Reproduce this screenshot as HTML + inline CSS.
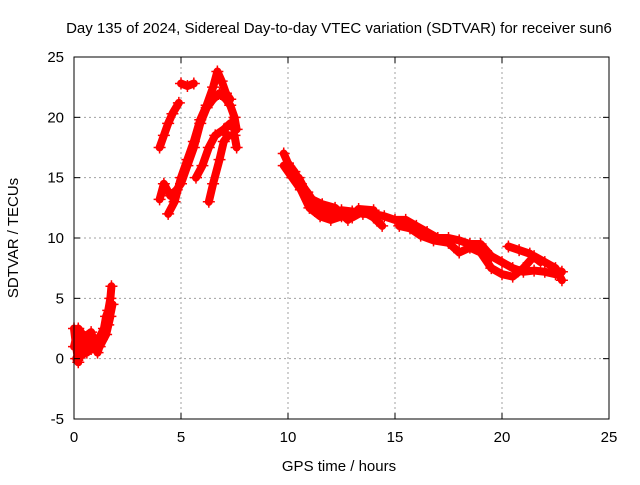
<!DOCTYPE html>
<html><head><meta charset="utf-8"><style>
body{margin:0;background:#fff}
svg text{font-family:"Liberation Sans",sans-serif;font-size:15px;fill:#000}
</style></head><body>
<svg id="chart" width="640" height="480">
<text x="339" y="33" text-anchor="middle">Day 135 of 2024, Sidereal Day-to-day VTEC variation (SDTVAR) for receiver sun6</text>
<g id="grid"></g><g id="series"></g><g id="axes"></g>
<text x="339" y="471" text-anchor="middle">GPS time / hours</text>
<text transform="translate(18,238) rotate(-90)" text-anchor="middle">SDTVAR / TECUs</text>
</svg>
<script>
const xTicks=[0,5,10,15,20,25];
const yTicks=[-5,0,5,10,15,20,25];
const trackA=[[0,2.5],[0.1,1],[0.2,-0.3],[0.3,1.5],[0.4,0.3],[0.6,1.5],[0.8,0.8],[1.0,1.5],[1.2,1.8],[1.4,2.5],[1.5,3.5],[1.6,4],[1.7,5],[1.75,6]];
const trackA2=[[0,1],[0.2,2.5],[0.4,2],[0.6,0.5],[0.9,1.8],[1.2,1],[1.5,2],[1.7,3.5]];
const trackA3=[[0.1,0],[0.3,0.8],[0.5,1.8],[0.8,2.2],[1.1,0.5],[1.3,1.6],[1.6,2.8],[1.8,4.5]];
const trackB=[[4.0,17.5],[4.2,18.5],[4.4,19.5],[4.6,20.3],[4.9,21.2]];
const trackB2=[[5.0,22.8],[5.3,22.6],[5.6,22.8]];
const trackC=[[4.0,13.2],[4.2,14.5],[4.5,13.5],[4.8,14],[5.0,14.5],[5.3,16],[5.6,17.5],[5.9,19.5],[6.2,20.8],[6.5,21.5],[6.8,22],[7.1,21.5],[7.3,21],[7.5,20],[7.6,19]];
const trackC2=[[4.4,12],[4.7,13],[5.0,15],[5.3,16.5],[5.6,18],[5.9,19.8],[6.2,21],[6.5,22.5],[6.7,23.8],[6.9,23],[7.1,22],[7.3,21.5]];
const trackD=[[5.7,15],[6.0,16],[6.3,17.5],[6.6,18.5],[7.0,19],[7.3,19.5],[7.5,19]];
const trackD2=[[6.3,13],[6.5,14.5],[6.8,16.5],[7.0,18],[7.2,18.5],[7.5,18.5],[7.6,17.5]];
const trackE=[[9.8,17],[10.0,16.2],[10.3,15.5],[10.6,14.5],[10.9,13.8],[11.2,13],[11.5,12.3],[12,12],[12.5,12.3],[13,12.2],[13.5,12],[14,12],[14.5,11.8],[15,11.5],[15.5,11.5],[16,11],[16.5,10.5],[17,10],[17.5,10],[18,9.8],[18.5,9.5],[19,9.5],[19.5,8.5],[20,8],[20.5,7.5],[21,7.2],[21.5,7.3],[22,7.2],[22.5,7],[22.8,7.2]];
const trackE2=[[9.8,16],[10.2,15],[10.6,14],[11,12.5],[11.5,11.8],[12,11.5],[12.5,11.8],[13,11.7],[13.5,12.2],[14,11.7],[14.4,11]];
const trackE3=[[15.2,11],[15.7,10.8],[16.2,10.2],[16.8,9.8],[17.5,9.6],[18,8.8],[18.5,9.2],[19,8.8],[19.5,7.5],[20,7],[20.5,6.8],[21,7.5],[21.5,8.5],[22,8],[22.5,7.5],[22.8,6.5]];
const trackE4=[[20.3,9.3],[20.8,9],[21.3,8.7],[21.8,8]];
const trackE5=[[10.5,15],[11,13.3],[11.6,12.8],[12.2,12.5],[12.8,11.5],[13.3,12.4],[14,12.3]];
const tracks=[trackA,trackA2,trackA3,trackB,trackB2,trackC,trackC2,trackD,trackD2,trackE,trackE2,trackE3,trackE4,trackE5];
const X0=74,X1=609,Y0=419,Y1=57;
const sx=v=>X0+(v-0)/25*(X1-X0);
const sy=v=>Y0-(v+5)/30*(Y0-Y1);
const NS="http://www.w3.org/2000/svg";
const mk=(t,a,p)=>{const e=document.createElementNS(NS,t);for(const k in a)e.setAttribute(k,a[k]);p.appendChild(e);return e;};
const G=document.getElementById('grid'),S=document.getElementById('series'),A=document.getElementById('axes');
xTicks.forEach(t=>{const x=sx(t);
 if(t>0&&t<25){const l=mk('line',{x1:x,x2:x,y1:Y1,y2:Y0,stroke:'#a0a0a0','stroke-dasharray':'2,3'},G);
 
 }
 const tk=mk('line',{x1:x,x2:x,y1:Y0,y2:Y0-6,stroke:'#000'},A);
 
 
 mk('line',{x1:x,x2:x,y1:Y1,y2:Y1+6,stroke:'#000'},A);
 const tx=mk('text',{x:x,y:442,'text-anchor':'middle'},A);tx.textContent=t;
 
 });
yTicks.forEach(t=>{const y=sy(t);
 if(t>-5&&t<25){const l=mk('line',{x1:X0,x2:X1,y1:y,y2:y,stroke:'#a0a0a0','stroke-dasharray':'2,3'},G);
 
 }
 mk('line',{x1:X0,x2:X0+6,y1:y,y2:y,stroke:'#000'},A);
 mk('line',{x1:X1,x2:X1-6,y1:y,y2:y,stroke:'#000'},A);
 const tx=mk('text',{x:64,y:y+5,'text-anchor':'end'},A);tx.textContent=t;
 
 });
const fr=mk('rect',{x:X0,y:Y1,width:X1-X0,height:Y0-Y1,fill:'none',stroke:'#000'},A);


tracks.forEach(tr=>{
 const pl=mk('polyline',{points:tr.map(p=>sx(p[0])+','+sy(p[1])).join(' '),fill:'none',stroke:'#f00','stroke-width':8,'stroke-linejoin':'round','stroke-linecap':'round'},S);
 
 
 tr.forEach(p=>{const x=sx(p[0]),y=sy(p[1]);
  const m=mk('path',{d:`M${x-6},${y}H${x+6}M${x},${y-6}V${y+6}`,stroke:'#f00','stroke-width':1.5},S);
  
  });
});
</script>
</body></html>
